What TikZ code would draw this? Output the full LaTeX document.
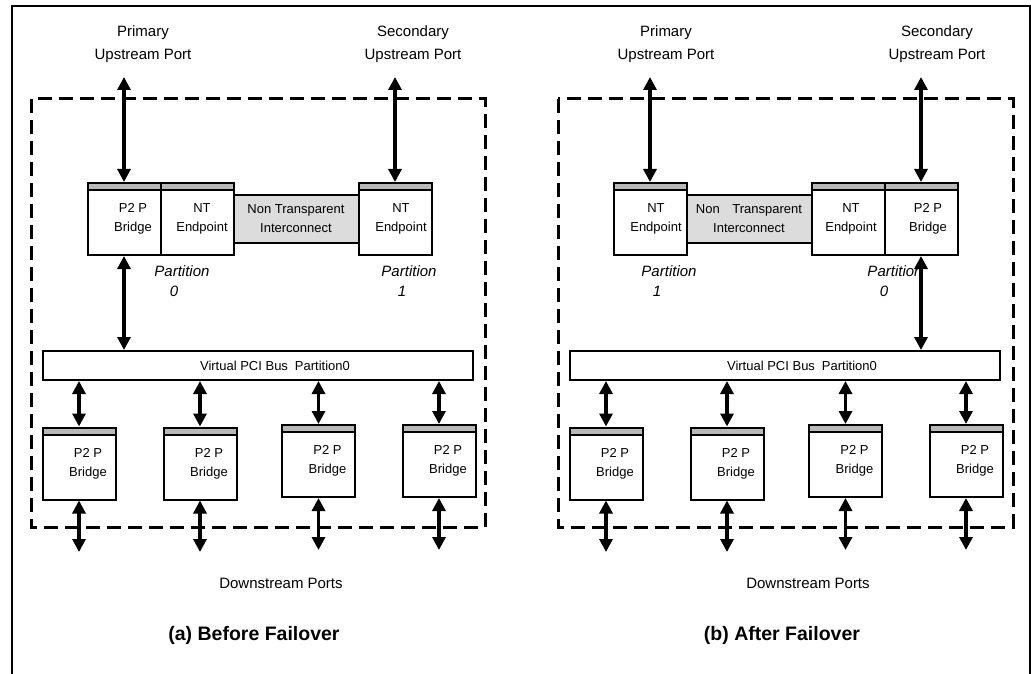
\documentclass[tikz,border=0pt]{standalone}
\usepackage{fontspec}
\setmainfont{Liberation Sans}
\usetikzlibrary{arrows.meta, positioning}
\definecolor{stripgray}{RGB}{185,185,185}
\definecolor{linkgray}{RGB}{220,220,220}

\begin{document}
\begin{tikzpicture}[x=1pt, y=-1pt,
		bridgebox/.style={draw, line width=2pt, inner sep=0pt, minimum width=73pt, minimum height=72pt,
			path picture={\fill[stripgray] (path picture bounding box.north west) rectangle ([yshift=-7pt]path picture bounding box.north east);
				\draw[line width=2pt] ([yshift=-7pt]path picture bounding box.north west) -- ([yshift=-7pt]path picture bounding box.north east);}},
		linkbox/.style={draw, line width=2pt, fill=linkgray, inner sep=0pt, minimum width=125pt, minimum height=48pt},
		busbox/.style={draw, line width=2pt, inner sep=0pt, minimum width=430pt, minimum height=29pt},
		boxtext/.style={align=center, inner sep=0pt, font=\fontsize{13}{19}\selectfont},
		porttext/.style={align=center, inner sep=0pt, font=\fontsize{15}{23}\selectfont},
		parttext/.style={align=center, inner sep=0pt, font=\fontsize{15}{20}\selectfont\itshape},
		capt/.style={inner sep=0pt, font=\fontsize{19.5}{22}\selectfont\bfseries},
		dbl/.style={{Triangle[length=13pt,width=13pt]}-{Triangle[length=13pt,width=13pt]}, line width=3.2pt},
		dashbox/.style={dash pattern=on 14pt off 7pt, line width=3pt}]
	\useasboundingbox (0,0) rectangle (1031,674);
	% Outer frame
	\draw[line width=2pt] (12,690) -- (12,6) -- (1030,6) -- (1030,690);
	% Switch outlines
	\draw[dashbox] (31,99) rectangle (485,527);
	\draw[dashbox] (558,99) rectangle (1013,527);

	% (a) Before failover
	\node[porttext] (priL) at (143,44.5) {Primary\\Upstream Port};
	\node[porttext] (secL) at (413,44.5) {Secondary\\Upstream Port};
	\node[bridgebox] (pbL) at (124,219) {};
	\node[bridgebox] (ntL1) at (197,219) {};
	\node[linkbox] (niL) at (296,219) {};
	\node[bridgebox] (ntL2) at (395,219) {};
	\node[boxtext] (pbLt) at ([xshift=9pt]pbL.center) {P2 P\\Bridge};
	\node[boxtext] (ntL1t) at ([xshift=5pt]ntL1.center) {NT\\Endpoint};
	\node[boxtext] (niLt) at (niL.center) {Non Transparent\\Interconnect};
	\node[boxtext] (ntL2t) at ([xshift=6pt]ntL2.center) {NT\\Endpoint};
	\node[parttext] (ptL0) at (182,281) {Partition\\0\rule{16pt}{0pt}};
	\node[parttext] (ptL1) at (409,281) {Partition\\1\rule{14pt}{0pt}};
	\node[busbox] (busL) at (258,365.5) {};
	\node[boxtext] (busLt) at ([xshift=17pt]busL.center) {Virtual PCI Bus\hspace{7pt}Partition0};
	\node[bridgebox] (bL1) at (79,463.5) {};
	\node[bridgebox] (bL2) at (200,463.5) {};
	\node[bridgebox] (bL3) at (318.5,461) {};
	\node[bridgebox] (bL4) at (439,461) {};
	\node[boxtext] (bL1t) at ([xshift=9pt]bL1.center) {P2 P\\Bridge};
	\node[boxtext] (bL2t) at ([xshift=9pt]bL2.center) {P2 P\\Bridge};
	\node[boxtext] (bL3t) at ([xshift=9pt]bL3.center) {P2 P\\Bridge};
	\node[boxtext] (bL4t) at ([xshift=9pt]bL4.center) {P2 P\\Bridge};
	\node[porttext] (dsL) at (281,583) {Downstream Ports};
	\node[capt] (capL) at (254,635) {(a) Before Failover};
	% Links
	\coordinate (upL1) at (124,77);
	\coordinate (upL2) at (395,77);
	\draw[dbl] (upL1) -- (pbL.north);
	\draw[dbl] (upL2) -- (ntL2.north);
	\draw[dbl] (pbL.south) -- (pbL.south |- busL.north);
	\draw[dbl] (bL1.north |- busL.south) -- (bL1.north);
	\draw[dbl] (bL2.north |- busL.south) -- (bL2.north);
	\draw[dbl] (bL3.north |- busL.south) -- (bL3.north);
	\draw[dbl] (bL4.north |- busL.south) -- (bL4.north);
	\coordinate (dnL1) at (79,552);
	\coordinate (dnL2) at (200,552);
	\coordinate (dnL3) at (318.5,550);
	\coordinate (dnL4) at (439,550);
	\draw[dbl] (bL1.south) -- (dnL1);
	\draw[dbl] (bL2.south) -- (dnL2);
	\draw[dbl] (bL3.south) -- (dnL3);
	\draw[dbl] (bL4.south) -- (dnL4);

	% (b) After failover
	\node[porttext] (priR) at (666,44.5) {Primary\\Upstream Port};
	\node[porttext] (secR) at (937,44.5) {Secondary\\Upstream Port};
	\node[bridgebox] (ntR1) at (650,219) {};
	\node[linkbox] (niR) at (749,219) {};
	\node[bridgebox] (ntR2) at (848,219) {};
	\node[bridgebox] (pbR) at (921,219) {};
	\node[boxtext] (ntR1t) at ([xshift=6pt]ntR1.center) {NT\\Endpoint};
	\node[boxtext] (niRt) at (niR.center) {Non\hspace{9pt} Transparent\\Interconnect};
	\node[boxtext] (ntR2t) at ([xshift=3pt]ntR2.center) {NT\\Endpoint};
	\node[boxtext] (pbRt) at ([xshift=7pt]pbR.center) {P2 P\\Bridge};
	\node[parttext] (ptR1) at (669,281) {Partition\\1\rule{24pt}{0pt}};
	\node[parttext] (ptR0) at (895,281) {Partition\\0\rule{22pt}{0pt}};
	\node[busbox] (busR) at (785,365.5) {};
	\node[boxtext] (busRt) at ([xshift=17pt]busR.center) {Virtual PCI Bus\hspace{7pt}Partition0};
	\node[bridgebox] (bR1) at (606,463.5) {};
	\node[bridgebox] (bR2) at (727,463.5) {};
	\node[bridgebox] (bR3) at (845.5,461) {};
	\node[bridgebox] (bR4) at (966,461) {};
	\node[boxtext] (bR1t) at ([xshift=9pt]bR1.center) {P2 P\\Bridge};
	\node[boxtext] (bR2t) at ([xshift=9pt]bR2.center) {P2 P\\Bridge};
	\node[boxtext] (bR3t) at ([xshift=9pt]bR3.center) {P2 P\\Bridge};
	\node[boxtext] (bR4t) at ([xshift=9pt]bR4.center) {P2 P\\Bridge};
	\node[porttext] (dsR) at (808,583) {Downstream Ports};
	\node[capt] (capR) at (782,635) {(b) After Failover};
	% Links
	\coordinate (upR1) at (650,77);
	\coordinate (upR2) at (921,77);
	\draw[dbl] (upR1) -- (ntR1.north);
	\draw[dbl] (upR2) -- (pbR.north);
	\draw[dbl] (pbR.south) -- (pbR.south |- busR.north);
	\draw[dbl] (bR1.north |- busR.south) -- (bR1.north);
	\draw[dbl] (bR2.north |- busR.south) -- (bR2.north);
	\draw[dbl] (bR3.north |- busR.south) -- (bR3.north);
	\draw[dbl] (bR4.north |- busR.south) -- (bR4.north);
	\coordinate (dnR1) at (606,552);
	\coordinate (dnR2) at (727,552);
	\coordinate (dnR3) at (845.5,550);
	\coordinate (dnR4) at (966,550);
	\draw[dbl] (bR1.south) -- (dnR1);
	\draw[dbl] (bR2.south) -- (dnR2);
	\draw[dbl] (bR3.south) -- (dnR3);
	\draw[dbl] (bR4.south) -- (dnR4);
\end{tikzpicture}
\end{document}
